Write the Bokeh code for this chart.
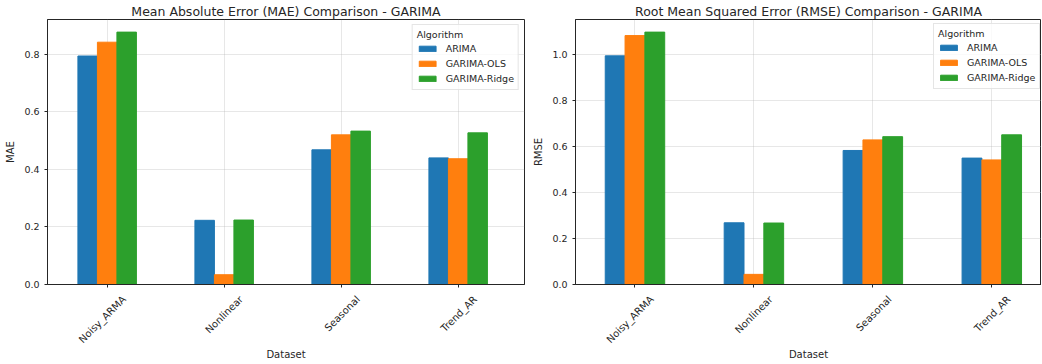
import math
from bokeh.plotting import figure
from bokeh.models import (ColumnDataSource, FixedTicker, NumeralTickFormatter, Range1d,
                          LinearAxis, SingleIntervalTicker)
from bokeh.transform import dodge
from bokeh.layouts import row
from bokeh.embed import file_html
from bokeh.resources import INLINE

# ---- data ----
datasets = ["Noisy_ARMA", "Nonlinear", "Seasonal", "Trend_AR"]
algorithms = ["ARIMA", "GARIMA-OLS", "GARIMA-Ridge"]
colors = ["#1f77b4", "#ff7f0e", "#2ca02c"]

mae_arima = [0.794, 0.223, 0.468, 0.440]
mae_ols = [0.842, 0.034, 0.520, 0.437]
mae_ridge = [0.877, 0.224, 0.533, 0.527]

rmse_arima = [0.993, 0.268, 0.582, 0.549]
rmse_ols = [1.081, 0.044, 0.628, 0.541]
rmse_ridge = [1.096, 0.267, 0.642, 0.650]

FONT = "DejaVu Sans"
TXT = "#262626"
BAR_W = 0.5 / 3
FIG_H = 362
BORDER_TOP = 19
BORDER_BOTTOM = 78


def make(title, ylabel, series, width, bl, br, x_start, x_end, px_per_unit, legend_loc):
    idx = list(range(len(datasets)))
    src = ColumnDataSource(dict(idx=idx, s0=series[0], s1=series[1], s2=series[2]))
    ymax = max(max(s) for s in series) * 1.05
    p = figure(width=width, height=FIG_H, x_range=Range1d(x_start, x_end),
               y_range=Range1d(0, ymax), output_backend="svg", toolbar_location=None,
               min_border_left=bl, min_border_right=br, min_border_top=BORDER_TOP,
               min_border_bottom=BORDER_BOTTOM)
    for i, (alg, col) in enumerate(zip(algorithms, colors)):
        p.vbar(x=dodge("idx", (i - 1) * BAR_W, range=p.x_range), top="s%d" % i,
               width=BAR_W, source=src, fill_color=col, line_color=col,
               legend_label=alg)

    p.title.text = title
    p.title.align = "center"
    p.title.text_font = FONT
    p.title.text_font_size = "12.5px"
    p.title.text_font_style = "normal"
    p.title.text_color = TXT
    p.title.standoff = 1

    p.outline_line_color = TXT
    p.outline_line_width = 1
    p.outline_line_alpha = 1

    # main x axis: ticks only
    ax = p.xaxis[0]
    ax.ticker = FixedTicker(ticks=idx)
    ax.major_label_overrides = {i: "" for i in idx}
    ax.major_label_text_font_size = "0px"
    ax.major_label_standoff = 0

    # label axis (rotated category names, centred under ticks like matplotlib)
    shift = 17.0 / px_per_unit
    p.extra_x_ranges = {"lab": Range1d(x_start - shift, x_end - shift)}
    ax2 = LinearAxis(x_range_name="lab", ticker=FixedTicker(ticks=idx),
                     major_label_overrides={i: n for i, n in zip(idx, datasets)},
                     major_label_orientation=math.pi / 4)
    ax2.axis_line_color = None
    ax2.major_tick_line_color = None
    ax2.minor_tick_line_color = None
    ax2.major_tick_out = 0
    ax2.major_tick_in = 0
    ax2.major_label_standoff = 10
    ax2.major_label_text_font = FONT
    ax2.major_label_text_font_size = "10px"
    ax2.major_label_text_color = TXT
    ax2.axis_label = "Dataset"
    ax2.axis_label_standoff = -3
    ax2.axis_label_text_font = FONT
    ax2.axis_label_text_font_size = "10px"
    ax2.axis_label_text_font_style = "normal"
    ax2.axis_label_text_color = TXT
    p.add_layout(ax2, "below")

    # y axis
    yax = p.yaxis[0]
    yax.ticker = SingleIntervalTicker(interval=0.2, num_minor_ticks=0)
    yax.formatter = NumeralTickFormatter(format="0.0")
    yax.axis_label = ylabel
    yax.axis_label_standoff = 5
    yax.major_label_standoff = 5
    yax.major_label_text_font = FONT
    yax.major_label_text_font_size = "9.5px"
    yax.major_label_text_color = TXT
    yax.axis_label_text_font = FONT
    yax.axis_label_text_font_size = "10px"
    yax.axis_label_text_font_style = "normal"
    yax.axis_label_text_color = TXT
    for a in (ax, yax):
        a.axis_line_color = TXT
        a.major_tick_line_color = TXT
        a.major_tick_out = 3
        a.major_tick_in = 0
        a.minor_tick_line_color = None

    p.xgrid.grid_line_color = "#b0b0b0"
    p.xgrid.grid_line_alpha = 0.3
    p.ygrid.grid_line_color = "#b0b0b0"
    p.ygrid.grid_line_alpha = 0.3

    lg = p.legend[0]
    lg.title = "Algorithm"
    lg.title_text_font = FONT
    lg.title_text_font_size = "9.5px"
    lg.title_text_font_style = "normal"
    lg.title_text_color = TXT
    lg.title_standoff = 2
    lg.label_text_font = FONT
    lg.label_text_font_size = "9.5px"
    lg.label_text_color = TXT
    lg.label_height = 13
    lg.label_standoff = 8
    lg.glyph_width = 21
    lg.glyph_height = 7
    lg.spacing = 2
    lg.padding = 4
    lg.margin = 5
    lg.border_line_color = "#cccccc"
    lg.border_line_width = 1
    lg.background_fill_alpha = 0.8
    lg.location = legend_loc
    return p


frame_h = FIG_H - BORDER_TOP - BORDER_BOTTOM
p1 = make("Mean Absolute Error (MAE) Comparison - GARIMA", "MAE",
          [mae_arima, mae_ols, mae_ridge], 530, 47, 6, -0.51, -0.51 + 477 / 117.0,
          117.0, "top_right")
p2 = make("Root Mean Squared Error (RMSE) Comparison - GARIMA", "RMSE",
          [rmse_arima, rmse_ols, rmse_ridge], 511, 44, 0, -0.5, -0.5 + 467 / 119.2,
          119.2, (358, frame_h - 6 - 64))

layout = row(p1, p2)
open("out.html", "w").write(file_html(layout, INLINE))
